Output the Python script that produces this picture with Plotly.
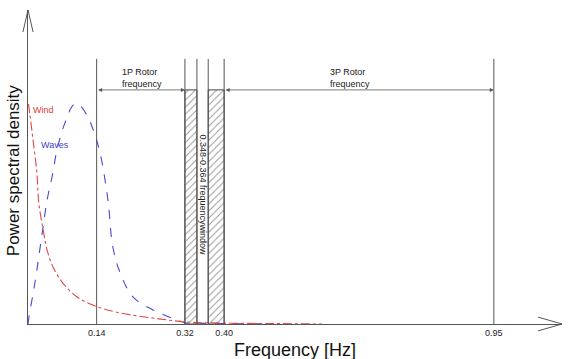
import plotly.graph_objects as go

# ---- data ----
wave_freq = [0.0, 0.002, 0.014, 0.029, 0.039, 0.049, 0.059, 0.069, 0.080, 0.092, 0.102,
             0.120, 0.133, 0.147, 0.163, 0.173, 0.188, 0.214, 0.255, 0.304, 0.322,
             0.36, 0.40, 0.45, 0.50]
wave_psd = [0.0, 0.032, 0.186, 0.414, 0.564, 0.668, 0.791, 0.873, 0.941, 0.995, 1.0,
            0.95, 0.882, 0.777, 0.564, 0.35, 0.232, 0.123, 0.064, 0.018, 0.006,
            0.003, 0.002, 0.001, 0.0]
wind_freq = [0.001, 0.004, 0.010, 0.018, 0.022, 0.031, 0.039, 0.051, 0.071, 0.100,
             0.137, 0.188, 0.255, 0.324, 0.40, 0.50, 0.60]
wind_psd = [1.0, 0.95, 0.841, 0.691, 0.55, 0.427, 0.336, 0.259, 0.186, 0.123,
            0.082, 0.05, 0.027, 0.009, 0.004, 0.002, 0.0]
marker_freqs = [0.14, 0.32, 0.3445, 0.3675, 0.40, 0.95]
hatch_bands = [(0.32, 0.3445), (0.3675, 0.40)]
tick_vals = [0.14, 0.32, 0.40, 0.95]
tick_text = ["0.14", "0.32", "0.40", "0.95"]

FONT = "Arial, Liberation Sans, sans-serif"
X_MAX = 1.089
Y_MAX = 1.427
LINE_TOP = 1.205
BAND_TOP = 1.064
ARROW_Y = 1.064

fig = go.Figure()

# hatched bands
fig.add_trace(go.Bar(
    x=[(a + b) / 2 for a, b in hatch_bands],
    y=[BAND_TOP] * len(hatch_bands),
    width=[b - a for a, b in hatch_bands],
    base=0,
    marker=dict(color="white",
                pattern=dict(shape="/", fgcolor="#333333", bgcolor="white", size=5, solidity=0.2),
                line=dict(color="#444444", width=1)),
    showlegend=False, hoverinfo="skip"))

fig.add_trace(go.Scatter(x=wave_freq, y=wave_psd, mode="lines",
                         line=dict(color="#4848d8", width=1.1, dash="dash", shape="spline"),
                         showlegend=False))
fig.add_trace(go.Scatter(x=wind_freq, y=wind_psd, mode="lines",
                         line=dict(color="#e04848", width=1.1, dash="dashdot", shape="spline"),
                         showlegend=False))

shapes = []
for f in marker_freqs:
    shapes.append(dict(type="line", xref="x", yref="y", x0=f, x1=f, y0=0, y1=LINE_TOP,
                       line=dict(color="#555555", width=1)))
# axis arrowheads (open chevrons)
shapes.append(dict(type="path", xref="paper", yref="paper",
                   path="M 0.955 0.022 L 1.0 0 L 0.955 -0.022",
                   line=dict(color="#555555", width=1)))
shapes.append(dict(type="path", xref="paper", yref="paper",
                   path="M -0.0095 0.93 L 0 1.0 L 0.0095 0.93",
                   line=dict(color="#555555", width=1)))

annotations = []
# double-headed range arrows
for x0, x1 in [(0.14, 0.32), (0.40, 0.95)]:
    annotations.append(dict(x=x1, y=ARROW_Y, ax=x0, ay=ARROW_Y, xref="x", yref="y",
                            axref="x", ayref="y", text="", showarrow=True,
                            arrowside="end+start", arrowhead=2, startarrowhead=2,
                            arrowsize=1, arrowwidth=0.8, arrowcolor="#555555"))
annotations += [
    dict(x=0.188, y=1.118, xref="x", yref="y", text="1P Rotor<br>frequency", showarrow=False,
         xanchor="left", align="left", font=dict(family=FONT, size=9, color="#222222")),
    dict(x=0.612, y=1.118, xref="x", yref="y", text="3P Rotor<br>frequency", showarrow=False,
         xanchor="left", align="left", font=dict(family=FONT, size=9, color="#222222")),
    dict(x=0.356, y=0.586, xref="x", yref="y", text="0.348-0.364 frequencywindow",
         showarrow=False, textangle=90, font=dict(family=FONT, size=9, color="#222222")),
    dict(x=0.006, y=0.973, xref="x", yref="y", text="Wind", showarrow=False,
         xanchor="left", font=dict(family=FONT, size=9, color="#e03a3a")),
    dict(x=0.023, y=0.814, xref="x", yref="y", text="Waves", showarrow=False,
         xanchor="left", font=dict(family=FONT, size=9, color="#3c3cd0")),
    dict(x=0.5, y=-0.045, xref="paper", yref="paper", text="Frequency [Hz]", showarrow=False,
         yanchor="top", font=dict(family=FONT, size=18, color="#111111")),
    dict(x=-0.028, y=0.49, xref="paper", yref="paper", text="Power spectral density",
         showarrow=False, textangle=-90, xanchor="center",
         font=dict(family=FONT, size=17, color="#111111")),
]

fig.update_layout(
    width=571, height=359,
    margin=dict(l=28, r=9, t=10, b=35),
    paper_bgcolor="white", plot_bgcolor="white",
    shapes=shapes, annotations=annotations,
    barmode="overlay",
    xaxis=dict(range=[0, X_MAX], showgrid=False, zeroline=False, showline=True,
               linecolor="#555555", linewidth=1, tickvals=tick_vals, ticktext=tick_text,
               ticks="", tickfont=dict(family=FONT, size=9, color="#222222")),
    yaxis=dict(range=[0, Y_MAX], showgrid=False, zeroline=False, showline=True,
               linecolor="#555555", linewidth=1, showticklabels=False, ticks=""),
)

# remove the browser's default 8px body margin so the figure fills the window exactly
fig.write_html("out.html", config={"displayModeBar": False},
               post_script="document.body.style.margin='0';document.body.style.overflow='hidden';")
